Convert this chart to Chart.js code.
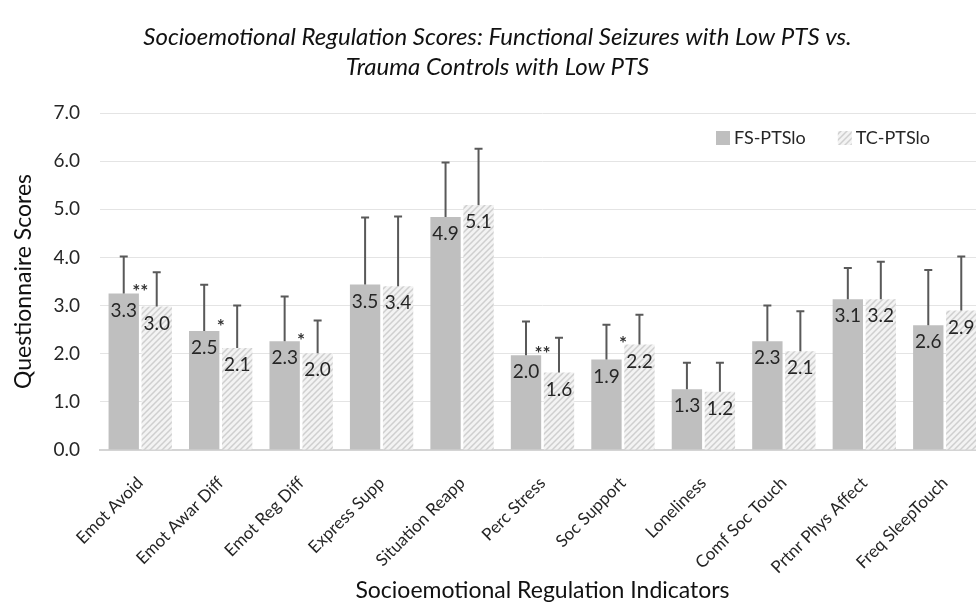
<!DOCTYPE html>
<html>
<head>
<meta charset="utf-8">
<script src="https://cdn.jsdelivr.net/npm/chart.js@4.4.1/dist/chart.umd.min.js"></script>
<style>
  html, body { margin: 0; padding: 0; background: #fff; overflow: hidden; }
  #wrap { width: 1005px; height: 606px; }
</style>
</head>
<body>
<div id="wrap"><canvas id="myChart" width="1005" height="606"></canvas></div>
<script>
// ----------------------------------------------------------------------DATA
const categories = ["Emot Avoid", "Emot Awar Diff", "Emot Reg Diff", "Express Supp", "Situation Reapp",
  "Perc Stress", "Soc Support", "Loneliness", "Comf Soc Touch", "Prtnr Phys Affect", "Freq SleepTouch"];

const fsValues = [3.25, 2.47, 2.26, 3.44, 4.84, 1.97, 1.88, 1.26, 2.26, 3.13, 2.59];
const fsSD = [0.77, 0.96, 0.93, 1.39, 1.13, 0.70, 0.72, 0.55, 0.74, 0.65, 1.15];
const fsLabels = ["3.3", "2.5", "2.3", "3.5", "4.9", "2.0", "1.9", "1.3", "2.3", "3.1", "2.6"];

const tcValues = [2.98, 2.12, 2.01, 3.40, 5.09, 1.61, 2.19, 1.21, 2.05, 3.13, 2.90];
const tcSD = [0.71, 0.88, 0.68, 1.45, 1.17, 0.72, 0.62, 0.60, 0.83, 0.78, 1.12];
const tcLabels = ["3.0", "2.1", "2.0", "3.4", "5.1", "1.6", "2.2", "1.2", "2.1", "3.2", "2.9"];

// significance stars and the score level they sit at
const sigMarks = ["**", "*", "*", "", "", "**", "*", "", "", "", ""];
const sigLevel = [3.40, 2.68, 2.40, 0, 0, 2.12, 2.32, 0, 0, 0, 0];

const yTicks = [0, 1, 2, 3, 4, 5, 6, 7];

// ----------------------------------------------------------------------HELPERS
const FONT = "Lato";

function makeHatch() {
  const c = document.createElement("canvas");
  c.width = 6;
  c.height = 6;
  const ctx = c.getContext("2d");
  ctx.fillStyle = "#f3f3f3";
  ctx.fillRect(0, 0, 6, 6);
  ctx.strokeStyle = "#cfcfcf";
  ctx.lineWidth = 1.5;
  ctx.beginPath();
  ctx.moveTo(0, 6); ctx.lineTo(6, 0);
  ctx.moveTo(-1, 1); ctx.lineTo(1, -1);
  ctx.moveTo(5, 7); ctx.lineTo(7, 5);
  ctx.stroke();
  return ctx.createPattern(c, "repeat");
}

// error bars (upper only) + value labels + stars + legend inside the plot
const extras = {
  id: "extras",
  afterDatasetsDraw(chart) {
    const ctx = chart.ctx;
    const y = chart.scales.y;
    const x = chart.scales.x;
    const area = chart.chartArea;
    const sets = [
      { sd: fsSD, labels: fsLabels },
      { sd: tcSD, labels: tcLabels },
    ];
    ctx.save();
    sets.forEach((s, di) => {
      const meta = chart.getDatasetMeta(di);
      const vals = chart.data.datasets[di].data;
      meta.data.forEach((bar, i) => {
        const top = y.getPixelForValue(vals[i] + s.sd[i]);
        ctx.strokeStyle = "#595959";
        ctx.lineWidth = 2;
        ctx.beginPath();
        ctx.moveTo(bar.x, bar.y);
        ctx.lineTo(bar.x, top);
        ctx.moveTo(bar.x - 4, top);
        ctx.lineTo(bar.x + 4, top);
        ctx.stroke();

        ctx.fillStyle = "#262626";
        ctx.font = "19px " + FONT;
        ctx.textAlign = "center";
        ctx.textBaseline = "middle";
        ctx.fillText(s.labels[i], bar.x, bar.y + 17);
      });
    });

    ctx.fillStyle = "#333";
    ctx.font = "bold 19px " + FONT;
    ctx.textAlign = "center";
    ctx.textBaseline = "middle";
    sigMarks.forEach((m, i) => {
      if (!m) return;
      ctx.fillText(m, x.getPixelForValue(i), y.getPixelForValue(sigLevel[i]) + 6);
    });

    // legend
    ctx.font = "18px " + FONT;
    ctx.textAlign = "left";
    let lx = area.right - 269;
    const ly = area.top + 25;
    chart.data.datasets.forEach((ds) => {
      ctx.fillStyle = ds.backgroundColor;
      ctx.fillRect(lx, ly - 7, 14, 14);
      lx += 18;
      ctx.fillStyle = "#262626";
      ctx.fillText(ds.label, lx, ly);
      lx += ctx.measureText(ds.label).width + 32;
    });
    ctx.restore();
  },
};

// ----------------------------------------------------------------------CHART
const hatch = makeHatch();

const config = {
  type: "bar",
  data: {
    labels: categories,
    datasets: [
      { label: "FS-PTSlo", data: fsValues, backgroundColor: "#bfbfbf" },
      { label: "TC-PTSlo", data: tcValues, backgroundColor: hatch },
    ],
  },
  options: {
    responsive: false,
    animation: false,
    layout: { padding: { left: 10, right: 20, top: 10, bottom: 0 } },
    datasets: { bar: { categoryPercentage: 0.82, barPercentage: 0.92 } },
    plugins: {
      title: {
        display: true,
        text: ["Socioemotional Regulation Scores: Functional Seizures with Low PTS vs.",
          "Trauma Controls with Low PTS"],
        color: "#111",
        font: { family: FONT, size: 24, style: "italic", weight: "normal", lineHeight: 1.25 },
        padding: { top: 12, bottom: 31 },
      },
      legend: { display: false },
      tooltip: { enabled: false },
    },
    scales: {
      x: {
        grid: { display: false },
        border: { color: "#d4d4d4", width: 2 },
        afterFit: (scale) => { scale.height = 156; },
        ticks: {
          color: "#262626",
          font: { family: FONT, size: 17 },
          minRotation: 45,
          maxRotation: 45,
          padding: 15,
        },
        title: {
          display: true,
          text: "Socioemotional Regulation Indicators",
          color: "#111",
          font: { family: FONT, size: 23 },
          padding: { top: 0, bottom: 2 },
        },
      },
      y: {
        min: 0,
        max: 7,
        afterBuildTicks: (axis) => { axis.ticks = yTicks.map((v) => ({ value: v })); },
        afterFit: (scale) => { scale.width = 90; },
        grid: { color: "#e4e4e4", drawTicks: false },
        border: { display: false },
        ticks: {
          color: "#262626",
          font: { family: FONT, size: 19 },
          padding: 20,
          callback: (v) => v.toFixed(1),
        },
        title: {
          display: true,
          text: "Questionnaire Scores",
          color: "#111",
          font: { family: FONT, size: 23 },
          padding: { top: 0, bottom: 4 },
        },
      },
    },
  },
  plugins: [extras],
};

new Chart(document.getElementById("myChart"), config);
</script>
</body>
</html>
